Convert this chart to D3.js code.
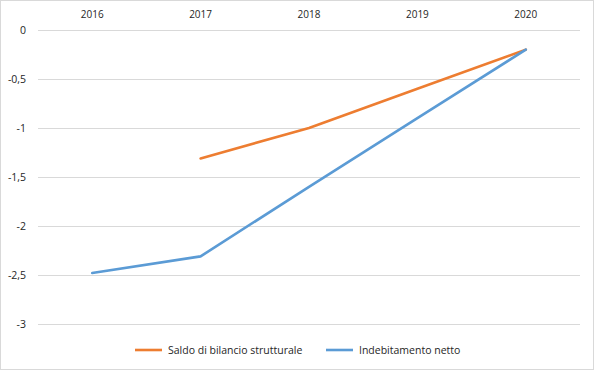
<!DOCTYPE html>
<html>
<head>
<meta charset="utf-8">
<script src="https://cdn.jsdelivr.net/npm/d3@7"></script>
<style>
  body { margin: 0; background: #fff; }
  svg { display: block; font-family: "Open Sans", "Liberation Sans", sans-serif; }
</style>
</head>
<body>
<div id="chart"></div>
<script>
// data
const years = ['2016', '2017', '2018', '2019', '2020'];
const saldoStrutturale = [null, -1.31, -1.0, -0.6, -0.2];
const indebitamentoNetto = [-2.48, -2.31, -1.6, -0.9, -0.2];
const yTicks = [0, -0.5, -1, -1.5, -2, -2.5, -3];

const width = 594, height = 370;
const margin = {top: 30, right: 14, bottom: 46, left: 38};

const svg = d3.select('#chart').append('svg')
  .attr('width', width)
  .attr('height', height);

svg.append('rect')
  .attr('x', 0.5).attr('y', 0.5)
  .attr('width', width - 1).attr('height', height - 1)
  .attr('fill', '#fff')
  .attr('stroke', '#d9d9d9');

const x = d3.scaleBand()
  .domain(years)
  .range([margin.left, width - margin.right]);

const y = d3.scaleLinear()
  .domain([-3, 0])
  .range([324, margin.top]);

// gridlines
svg.append('g')
  .selectAll('line')
  .data(yTicks)
  .enter().append('line')
  .attr('x1', margin.left)
  .attr('x2', width - margin.right)
  .attr('y1', d => Math.round(y(d)) + 0.5)
  .attr('y2', d => Math.round(y(d)) + 0.5)
  .attr('stroke', '#d9d9d9')
  .attr('stroke-width', 1);

const fmt = d => String(d).replace('.', ',');

// y axis labels
svg.append('g')
  .selectAll('text')
  .data(yTicks)
  .enter().append('text')
  .attr('x', 26)
  .attr('y', d => y(d) + 4)
  .attr('text-anchor', 'end')
  .attr('font-size', 10.5)
  .attr('fill', '#262626')
  .text(fmt);

// x axis labels on top
svg.append('g')
  .selectAll('text')
  .data(years)
  .enter().append('text')
  .attr('x', d => x(d) + x.bandwidth() / 2)
  .attr('y', 18)
  .attr('text-anchor', 'middle')
  .attr('font-size', 10)
  .attr('fill', '#262626')
  .text(d => d);

const series = [
  {name: 'Saldo di bilancio strutturale', values: saldoStrutturale, color: '#ed7d31'},
  {name: 'Indebitamento netto', values: indebitamentoNetto, color: '#5b9bd5'}
];

const line = d3.line()
  .defined(d => d.v !== null)
  .x(d => x(d.year) + x.bandwidth() / 2)
  .y(d => y(d.v));

series.forEach(s => {
  svg.append('path')
    .datum(years.map((yr, i) => ({year: yr, v: s.values[i]})))
    .attr('fill', 'none')
    .attr('stroke', s.color)
    .attr('stroke-width', 2.6)
    .attr('stroke-linejoin', 'round')
    .attr('stroke-linecap', 'round')
    .attr('d', line);
});

// legend
const legendX = [135, 326];
const legend = svg.append('g')
  .selectAll('g')
  .data(series)
  .enter().append('g')
  .attr('transform', (d, i) => 'translate(' + legendX[i] + ',350)');

legend.append('line')
  .attr('x1', 0).attr('x2', 27)
  .attr('stroke', d => d.color)
  .attr('stroke-width', 2.6);

legend.append('text')
  .attr('x', 33)
  .attr('y', 4)
  .attr('font-size', 10.5)
  .attr('fill', '#262626')
  .text(d => d.name);
</script>
</body>
</html>
